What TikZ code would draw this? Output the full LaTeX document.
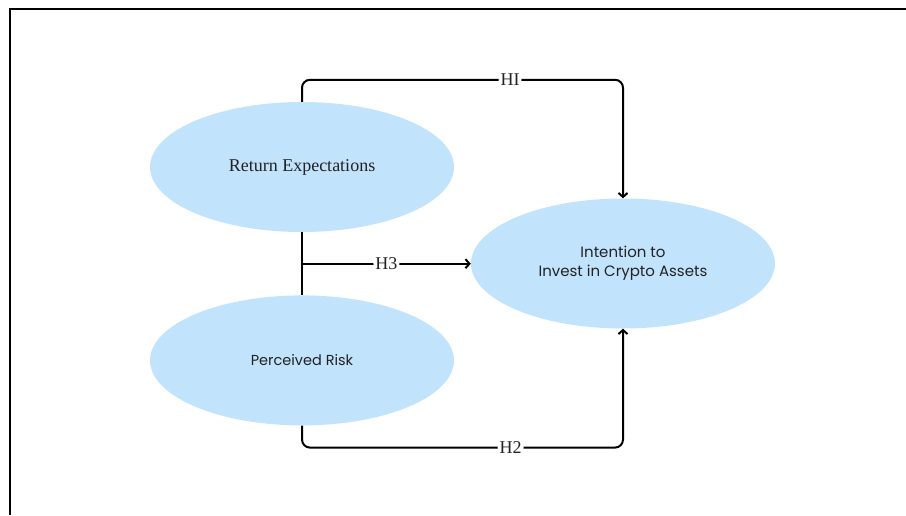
\documentclass[tikz,border=0pt]{standalone}
\usepackage{fontspec}
\setmainfont{Liberation Serif}
\newfontfamily\popfont{Poppins}
\usetikzlibrary{arrows.meta,positioning,shapes.geometric,calc}
\definecolor{varblue}{RGB}{194,227,252}
\definecolor{inkgray}{RGB}{34,34,34}

\begin{document}
\begin{tikzpicture}[x=1pt,y=-1pt,node distance=63pt,>={Straight Barb[length=4pt,width=9pt]}]
  \tikzstyle{var}=[ellipse,fill=varblue,minimum width=304pt,minimum height=130pt,inner sep=0pt,text=inkgray]
  \tikzstyle{conn}=[line width=2pt,rounded corners=8pt]
  \tikzstyle{lbl}=[fill=white,inner sep=2pt,font=\fontsize{18}{20}\selectfont,text=inkgray]
  \useasboundingbox (0,0) rectangle (906,515);
  \draw[line width=2pt] (10,515) -- (10,9) -- (906,9);

  \node[var,font=\fontsize{18}{20}\selectfont] (ret) at (302,167) {Return Expectations};
  \node[var,font=\popfont\fontsize{14.5}{19}\selectfont] (risk) [below=of ret] {Perceived Risk};
  \node[var,font=\popfont\fontsize{15}{19}\selectfont,align=center] (intent) at (623,263.5)
    {Intention to\\Invest in Crypto Assets};
  \coordinate (mid) at ($(ret.south)!0.5!(risk.north)$);

  \draw[conn,->] (ret.north) -- ++(0,-22) -| node[lbl,pos=0.324] {HI} (intent.north);
  \draw[conn,->] (risk.south) -- ++(0,22) -| node[lbl,pos=0.325] {H2} (intent.south);
  \draw[conn] (ret.south) -- (risk.north);
  \draw[conn,->] (mid) -- node[lbl] {H3} (mid -| intent.west);
\end{tikzpicture}
\end{document}
